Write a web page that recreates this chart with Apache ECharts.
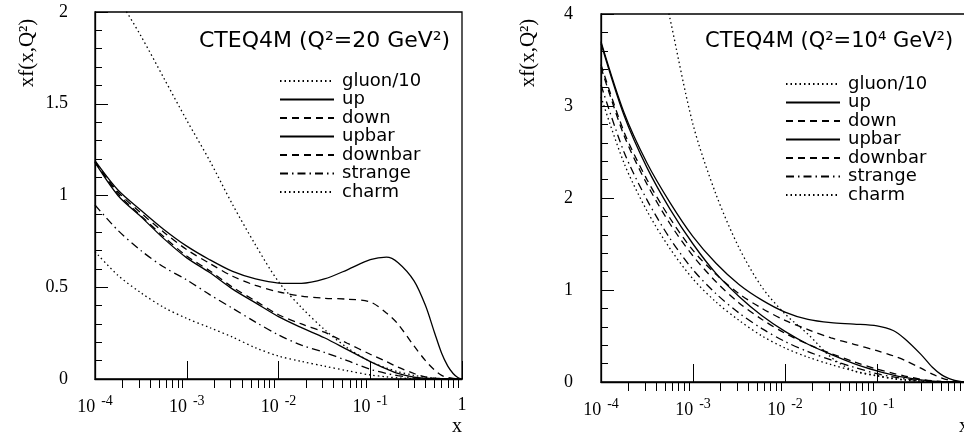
<!DOCTYPE html>
<html>
<head>
<meta charset="utf-8">
<script src="https://cdn.jsdelivr.net/npm/echarts@6/dist/echarts.min.js"></script>
<style>html,body{margin:0;padding:0;background:#fff;}#c{width:964px;height:434px;}</style>
</head>
<body>
<div id="c"></div>
<script>
// x grid (shared by both panels)
var xs = [1e-4, 1.778e-4, 3.162e-4, 5.623e-4, 1e-3, 1.778e-3, 3.162e-3, 5.623e-3, 1e-2, 1.778e-2, 3.162e-2, 5.623e-2, 0.1, 0.15, 0.2, 0.3, 0.4, 0.5, 0.6, 0.7, 0.8, 0.9, 1];
var seriesNames = ['gluon/10', 'up', 'down', 'upbar', 'downbar', 'strange', 'charm'];
var titleLeft = 'CTEQ4M (Q\u00b2=20 GeV\u00b2)';
var titleRight = 'CTEQ4M (Q\u00b2=10\u2074 GeV\u00b2)';
var xMajor = [1e-4, 1e-3, 1e-2, 1e-1, 1];
// labels visible inside the picture (the right panel's "1" falls outside the frame)
var xLabelsLeft = [1e-4, 1e-3, 1e-2, 1e-1, 1];
var xLabelsRight = [1e-4, 1e-3, 1e-2, 1e-1];

// Left panel: Q^2 = 20 GeV^2
var L_gluon   = [2.30, 2.08, 1.87, 1.64, 1.41, 1.19, 0.95, 0.73, 0.53, 0.39, 0.27, 0.17, 0.095, 0.06, 0.04, 0.02, 0.01, 0.005, 0.002, 0.001, 0, 0, 0];
var L_up      = [1.19, 1.03, 0.92, 0.815, 0.724, 0.65, 0.586, 0.545, 0.523, 0.521, 0.545, 0.595, 0.65, 0.664, 0.635, 0.535, 0.40, 0.255, 0.14, 0.07, 0.03, 0.008, 0];
var L_down    = [1.18, 1.02, 0.905, 0.80, 0.705, 0.63, 0.56, 0.51, 0.475, 0.452, 0.44, 0.435, 0.42, 0.36, 0.30, 0.18, 0.10, 0.05, 0.02, 0.008, 0.003, 0.001, 0];
var L_upbar   = [1.18, 1.0, 0.885, 0.765, 0.66, 0.58, 0.49, 0.415, 0.34, 0.28, 0.225, 0.16, 0.095, 0.055, 0.03, 0.01, 0.004, 0.001, 0, 0, 0, 0, 0];
var L_downbar = [1.185, 1.01, 0.89, 0.775, 0.67, 0.59, 0.50, 0.425, 0.35, 0.30, 0.255, 0.195, 0.135, 0.095, 0.065, 0.03, 0.012, 0.005, 0.002, 0, 0, 0, 0];
var L_strange = [0.948, 0.81, 0.70, 0.61, 0.54, 0.46, 0.385, 0.31, 0.24, 0.185, 0.145, 0.10, 0.053, 0.03, 0.018, 0.006, 0.002, 0, 0, 0, 0, 0, 0];
var L_charm   = [0.694, 0.565, 0.47, 0.39, 0.33, 0.28, 0.228, 0.17, 0.125, 0.096, 0.07, 0.045, 0.022, 0.012, 0.006, 0.002, 0, 0, 0, 0, 0, 0, 0];

// Right panel: Q^2 = 10^4 GeV^2
var R_gluon   = [7.6, 6.3, 5.1, 3.95, 2.8, 2.04, 1.46, 1.03, 0.74, 0.52, 0.27, 0.12, 0.065, 0.035, 0.02, 0.008, 0.003, 0, 0, 0, 0, 0, 0];
var R_up      = [3.70, 2.93, 2.38, 1.95, 1.58, 1.29, 1.06, 0.89, 0.76, 0.68, 0.645, 0.63, 0.61, 0.56, 0.47, 0.30, 0.16, 0.08, 0.04, 0.018, 0.007, 0.002, 0];
var R_down    = [3.45, 2.72, 2.20, 1.78, 1.43, 1.17, 0.96, 0.80, 0.67, 0.57, 0.48, 0.41, 0.34, 0.285, 0.235, 0.15, 0.085, 0.045, 0.02, 0.008, 0.003, 0, 0];
var R_upbar   = [3.68, 2.90, 2.33, 1.88, 1.50, 1.18, 0.93, 0.72, 0.55, 0.41, 0.30, 0.20, 0.12, 0.075, 0.05, 0.022, 0.01, 0.004, 0.001, 0, 0, 0, 0];
var R_downbar = [3.42, 2.68, 2.15, 1.72, 1.37, 1.09, 0.86, 0.68, 0.53, 0.41, 0.31, 0.22, 0.14, 0.095, 0.065, 0.03, 0.014, 0.006, 0.002, 0, 0, 0, 0];
var R_strange = [3.23, 2.50, 1.98, 1.56, 1.22, 0.96, 0.75, 0.58, 0.44, 0.33, 0.24, 0.16, 0.09, 0.055, 0.035, 0.014, 0.005, 0.002, 0, 0, 0, 0, 0];
var R_charm   = [3.10, 2.38, 1.86, 1.45, 1.12, 0.87, 0.67, 0.50, 0.37, 0.27, 0.19, 0.12, 0.07, 0.04, 0.025, 0.01, 0.003, 0, 0, 0, 0, 0, 0];

var leftData = [L_gluon, L_up, L_down, L_upbar, L_downbar, L_strange, L_charm];
var rightData = [R_gluon, R_up, R_down, R_upbar, R_downbar, R_strange, R_charm];

var DOT = [1.5, 3];
var DASH = [7, 5];
var DASHDOT = [8, 4, 1.5, 4];
var styles = [DOT, 'solid', DASH, 'solid', DASH, DASHDOT, DOT];

var xMinor = [];
for (var d = -4; d < 0; d++) {
  for (var m = 2; m <= 9; m++) xMinor.push(m * Math.pow(10, d));
}

function pairs(ys) { return xs.map(function (x, i) { return [x, ys[i]]; }); }

var serifFont = 'Liberation Serif';
var sansFont = 'DejaVu Sans';

function xLabelFmt(v) {
  var e = Math.round(Math.log10(v));
  if (e === 0) return '{o|1}';
  return '{b|10}{s|' + e + '}';
}
var xLabelRich = {
  b: { fontFamily: serifFont, fontSize: 18, color: '#000', verticalAlign: 'bottom', lineHeight: 22 },
  s: { fontFamily: serifFont, fontSize: 14, color: '#000', verticalAlign: 'top', padding: [0, 0, 0, 6], lineHeight: 14 },
  o: { fontFamily: serifFont, fontSize: 18, color: '#000', lineHeight: 22 }
};

function makeX(gridIndex, labelVals) {
  return [
    {
      type: 'log', logBase: 10, gridIndex: gridIndex, min: 1e-4, max: 1,
      axisLine: { show: true, onZero: false, lineStyle: { color: '#000', width: 1.3 } },
      axisTick: { show: true, inside: true, length: 18, customValues: xMajor, lineStyle: { color: '#000', width: 1 } },
      axisLabel: { show: true, margin: 15, customValues: labelVals, formatter: xLabelFmt, rich: xLabelRich },
      splitLine: { show: false }, minorTick: { show: false }
    },
    {
      type: 'log', logBase: 10, gridIndex: gridIndex, min: 1e-4, max: 1,
      axisLine: { show: false },
      axisTick: { show: true, inside: true, length: 9, customValues: xMinor, lineStyle: { color: '#000', width: 1 } },
      axisLabel: { show: false },
      splitLine: { show: false }
    }
  ];
}
function makeY(gridIndex, max, interval, margin) {
  return {
    type: 'value', gridIndex: gridIndex, min: 0, max: max, interval: interval,
    axisLine: { show: true, onZero: false, lineStyle: { color: '#000', width: 1.3 } },
    axisTick: { show: true, inside: true, length: 13, lineStyle: { color: '#000', width: 1 } },
    minorTick: { show: true, splitNumber: 5, length: 7, lineStyle: { color: '#000', width: 1 } },
    axisLabel: { margin: margin, fontFamily: serifFont, fontSize: 18, color: '#000',
      formatter: function (v) { return String(v); } },
    splitLine: { show: false }, minorSplitLine: { show: false }
  };
}

var series = [];
[leftData, rightData].forEach(function (dataset, p) {
  dataset.forEach(function (ys, i) {
    series.push({
      name: seriesNames[i], type: 'line', xAxisIndex: p * 2, yAxisIndex: p,
      data: pairs(ys), symbol: 'none', smooth: 0.3, clip: true, silent: true,
      itemStyle: { color: '#000' },
      lineStyle: { color: '#000', width: 1.3, type: styles[i] }
    });
  });
});

function makeLegend(left, top) {
  return {
    data: seriesNames, orient: 'vertical', left: left, top: top, padding: 0,
    itemWidth: 54, itemHeight: 10, itemGap: 0.5, selectedMode: false,
    itemStyle: { color: 'rgba(0,0,0,0)', borderWidth: 0, opacity: 0 },
    textStyle: { fontFamily: sansFont, fontSize: 18, color: '#000', lineHeight: 18, padding: [0, 0, 0, 3] }
  };
}

var option = {
  animation: false,
  backgroundColor: '#fff',
  title: [
    { text: titleLeft, left: 199, top: 30, padding: 0, textStyle: { fontFamily: sansFont, fontSize: 22, fontWeight: 'normal', color: '#000' } },
    { text: titleRight, left: 705, top: 31, padding: 0, textStyle: { fontFamily: sansFont, fontSize: 21, fontWeight: 'normal', color: '#000' } }
  ],
  legend: [makeLegend(279, 72), makeLegend(785, 75)],
  grid: [
    { left: 95, top: 12, width: 367, height: 367, outerBoundsMode: 'none', containLabel: false, show: true, borderColor: '#000', borderWidth: 1.3, backgroundColor: 'transparent' },
    { left: 601, top: 14, width: 368, height: 368, outerBoundsMode: 'none', containLabel: false, show: true, borderColor: '#000', borderWidth: 1.3, backgroundColor: 'transparent' }
  ],
  xAxis: makeX(0, xLabelsLeft).concat(makeX(1, xLabelsRight)),
  yAxis: [makeY(0, 2, 0.5, 27), makeY(1, 4, 1, 28)],
  graphic: [
    { type: 'text', x: 27, y: 53, rotation: Math.PI / 2, style: { text: 'xf(x,Q\u00b2)', font: '21px "Liberation Serif"', fill: '#000', align: 'center', verticalAlign: 'middle' } },
    { type: 'text', x: 528, y: 53, rotation: Math.PI / 2, style: { text: 'xf(x,Q\u00b2)', font: '21px "Liberation Serif"', fill: '#000', align: 'center', verticalAlign: 'middle' } },
    { type: 'text', x: 457, y: 427, style: { text: 'x', font: '20px "Liberation Serif"', fill: '#000', align: 'center', verticalAlign: 'middle' } },
    { type: 'text', x: 964, y: 427, style: { text: 'x', font: '20px "Liberation Serif"', fill: '#000', align: 'center', verticalAlign: 'middle' } }
  ],
  series: series
};

var chart = echarts.init(document.getElementById('c'), null, { renderer: 'canvas' });
chart.setOption(option);
</script>
</body>
</html>
